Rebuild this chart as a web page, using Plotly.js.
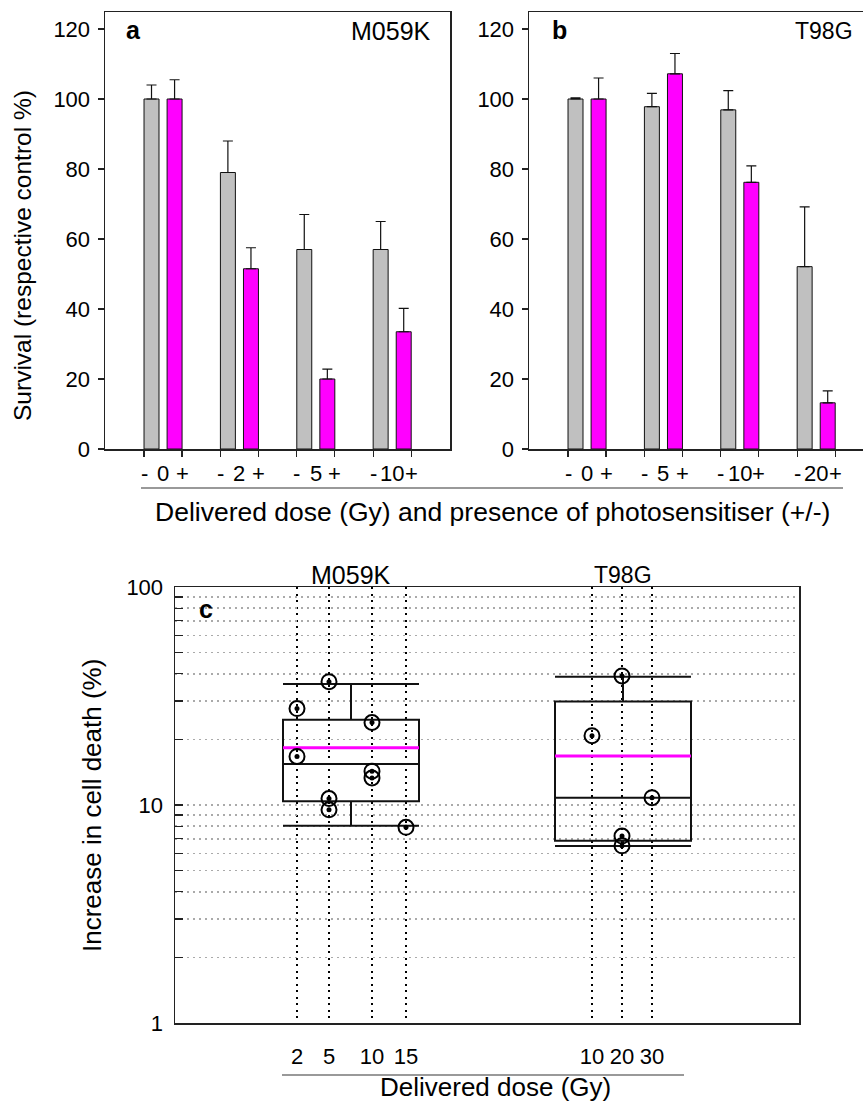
<!DOCTYPE html>
<html>
<head>
<meta charset="utf-8">
<script src="https://cdn.plot.ly/plotly-3.0.1.min.js"></script>
<style>html,body{margin:0;padding:0;background:#fff}#chart{width:863px;height:1104px}</style>
</head>
<body>
<div id="chart"></div>
<script>
// ---------- Data: panels a and b (survival, % of respective control) ----------
const dosesA = ['0', '2', '5', '10'];          // M059K delivered dose (Gy)
const grayA  = [100, 79, 57, 57];              // without photosensitiser (-)
const grayErrA = [4, 9, 10, 8];
const magA   = [100, 51.5, 20, 33.5];          // with photosensitiser (+)
const magErrA = [5.5, 6, 2.8, 6.7];

const dosesB = ['0', '5', '10', '20'];         // T98G delivered dose (Gy)
const grayB  = [100, 97.8, 96.9, 52.1];
const grayErrB = [0.3, 3.8, 5.5, 17.1];
const magB   = [100, 107.2, 76.2, 13.2];
const magErrB = [6, 5.8, 4.7, 3.4];

// ---------- Data: panel c (increase in cell death, %) ----------
const m059kDose = [2, 2, 5, 5, 5, 10, 10, 10, 15];
const m059kVal  = [27.7, 16.7, 36.8, 10.7, 9.5, 23.9, 14.3, 13.3, 7.9];
const t98gDose  = [10, 20, 20, 20, 30];
const t98gVal   = [20.8, 39.1, 7.2, 6.5, 10.8];

const boxCells   = ['M059K', 'T98G'];
const boxQ1      = [10.4, 6.86];
const boxMedian  = [15.4, 10.8];
const boxQ3      = [24.6, 29.8];
const boxLower   = [8.04, 6.49];
const boxUpper   = [35.9, 38.8];
const boxMean    = [18.3, 16.8];

// ---------- Layout-only positions for panel c (x axis slot positions) ----------
const slotPos = {M059K: {2: 122, 5: 154, 10: 197, 15: 231}, T98G: {10: 417, 20: 447, 30: 477}};
const boxPos = {M059K: 176, T98G: 448};
const boxWidth = 136;

// ---------- Styling ----------
const FONT = 'Liberation Sans, Arial, sans-serif';
const AX = '#222';
const GRAY = '#c0c0c0', MAG = '#ff00ff';
const barW = 0.196, grayOff = -0.249, magOff = 0.053;
const W = 863, H = 1104;
const px = v => v / W, py = v => 1 - v / H;

const idx = a => a.map((_, i) => i);
const zeros = a => a.map(() => 0);

function barTrace(vals, errs, color, off, xa, ya) {
  return {
    type: 'bar', x: idx(vals), y: vals, xaxis: xa, yaxis: ya,
    offset: off, width: barW,
    marker: {color: color, line: {color: '#111', width: 1}},
    error_y: {type: 'data', symmetric: false, array: errs, arrayminus: zeros(errs),
              color: '#111', thickness: 1.2, width: 5},
    hoverinfo: 'skip', showlegend: false
  };
}

const traces = [
  barTrace(grayA, grayErrA, GRAY, grayOff, 'x', 'y'),
  barTrace(magA, magErrA, MAG, magOff, 'x', 'y'),
  barTrace(grayB, grayErrB, GRAY, grayOff, 'x2', 'y2'),
  barTrace(magB, magErrB, MAG, magOff, 'x2', 'y2')
];

// Boxes (precomputed statistics)
boxCells.forEach((c, i) => {
  traces.push({
    type: 'box', x: [boxPos[c]], q1: [boxQ1[i]], median: [boxMedian[i]], q3: [boxQ3[i]],
    lowerfence: [boxLower[i]], upperfence: [boxUpper[i]],
    width: boxWidth, whiskerwidth: 1, boxpoints: false,
    line: {color: '#111', width: 2}, fillcolor: 'rgba(0,0,0,0)',
    xaxis: 'x3', yaxis: 'y3', hoverinfo: 'skip', showlegend: false
  });
});
// Mean lines
const mx = [], my = [];
boxCells.forEach((c, i) => {
  mx.push(boxPos[c] - boxWidth / 2, boxPos[c] + boxWidth / 2, null);
  my.push(boxMean[i], boxMean[i], null);
});
traces.push({type: 'scatter', mode: 'lines', x: mx, y: my, xaxis: 'x3', yaxis: 'y3',
  line: {color: MAG, width: 3}, hoverinfo: 'skip', showlegend: false});

// Points
const ptX = m059kDose.map(d => slotPos.M059K[d]).concat(t98gDose.map(d => slotPos.T98G[d]));
const ptY = m059kVal.concat(t98gVal);
traces.push({type: 'scatter', mode: 'markers', x: ptX, y: ptY, xaxis: 'x3', yaxis: 'y3',
  marker: {symbol: 'circle-open', size: 15, color: '#000', line: {width: 2, color: '#000'}},
  hoverinfo: 'skip', showlegend: false});
traces.push({type: 'scatter', mode: 'markers', x: ptX, y: ptY, xaxis: 'x3', yaxis: 'y3',
  marker: {symbol: 'circle', size: 5, color: '#000'}, hoverinfo: 'skip', showlegend: false});

// ---------- Axes ----------
const edgeTicks = a => a.flatMap((_, i) => [i + grayOff, i + magOff + barW]);
const baseX = {showline: true, linecolor: AX, linewidth: 1.5, showgrid: false, zeroline: false,
  ticks: 'outside', ticklen: 6, tickcolor: AX, tickwidth: 1.2, showticklabels: false, fixedrange: true};
const baseY = {showline: true, linecolor: AX, linewidth: 1.5, showgrid: false, zeroline: false,
  ticks: 'outside', ticklen: 6, tickcolor: AX, tickwidth: 1.2, range: [0, 124.86], dtick: 20,
  ticklabelstandoff: 3, tickfont: {size: 22, color: '#000'}, fixedrange: true};

const c3Ticks = [];
for (let d = 1; d <= 2; d++) for (let k = 1; k <= 9; k++) c3Ticks.push(k * Math.pow(10, d - 1));
c3Ticks.push(100);
const c3Text = c3Ticks.map(v => (v === 1 || v === 10 || v === 100) ? String(v) : '');

const slotVals = Object.values(slotPos.M059K).concat(Object.values(slotPos.T98G));
const slotText = Object.keys(slotPos.M059K).concat(Object.keys(slotPos.T98G));

const layout = {
  width: W, height: H, margin: {l: 0, r: 0, t: 0, b: 0},
  paper_bgcolor: '#fff', plot_bgcolor: 'rgba(0,0,0,0)',
  font: {family: FONT, color: '#000', size: 22},
  showlegend: false, barmode: 'overlay',
  xaxis: Object.assign({}, baseX, {domain: [px(105), px(450)], range: [-0.76, 3.757],
    tickvals: edgeTicks(dosesA), mirror: true, anchor: 'y'}),
  yaxis: Object.assign({}, baseY, {domain: [py(449), py(12)], mirror: true, anchor: 'x'}),
  xaxis2: Object.assign({}, baseX, {domain: [px(529), 1], range: [-0.76, 3.613],
    tickvals: edgeTicks(dosesB), mirror: true, anchor: 'y2'}),
  yaxis2: Object.assign({}, baseY, {domain: [py(449), py(12)], mirror: false, anchor: 'x2'}),
  xaxis3: {domain: [px(175), px(799)], range: [0, 624], anchor: 'y3',
    showline: true, mirror: true, linecolor: AX, linewidth: 1.5, zeroline: false,
    tickvals: slotVals, ticktext: slotText, ticks: '', ticklabelstandoff: 13,
    tickfont: {size: 22, color: '#000'},
    showgrid: true, gridcolor: '#000', gridwidth: 1.5, griddash: '2px,4.5px', fixedrange: true},
  yaxis3: {domain: [py(1023), py(587)], type: 'log', range: [0, 2], anchor: 'x3',
    showline: true, mirror: true, linecolor: AX, linewidth: 1.5, zeroline: false,
    tickvals: c3Ticks, ticktext: c3Text, ticks: 'inside', ticklen: 8, tickcolor: AX, tickwidth: 1.2,
    ticklabelstandoff: 6, tickfont: {size: 22, color: '#000'},
    showgrid: true, gridcolor: '#aaa', gridwidth: 1.5, griddash: '1.5px,4.5px', fixedrange: true},
  shapes: [
    {type: 'line', xref: 'paper', yref: 'paper', x0: px(141), x1: px(843), y0: py(488), y1: py(488),
     line: {color: '#777', width: 1.5}},
    {type: 'line', xref: 'paper', yref: 'paper', x0: px(282), x1: px(684), y0: py(1075), y1: py(1075),
     line: {color: '#777', width: 1.5}}
  ],
  annotations: []
};

const ann = layout.annotations;
function label(xref, x, y, text, opts) {
  ann.push(Object.assign({xref: xref, yref: 'paper', x: x, y: y, text: text, showarrow: false,
    xanchor: 'center', yanchor: 'middle', font: {size: 22, color: '#000'}}, opts || {}));
}
// Dose / +/- labels under panels a and b
[[dosesA, 'x'], [dosesB, 'x2']].forEach(([doses, xr]) => {
  doses.forEach((d, i) => {
    label(xr, i + grayOff, py(473), '-');
    label(xr, i, py(473), d);
    label(xr, i + magOff + barW, py(473), '+');
  });
});
// Panel texts
label('paper', px(22), py(256), 'Survival (respective control %)', {textangle: -90, font: {size: 24.5, color: '#000'}});
label('paper', px(492), py(512), 'Delivered dose (Gy) and presence of photosensitiser (+/-)', {font: {size: 26.5, color: '#000'}});
label('paper', px(124), py(30), '<b>a</b>', {xanchor: 'left', font: {size: 25, color: '#000'}});
label('paper', px(433), py(31), 'M059K', {xanchor: 'right', font: {size: 25, color: '#000'}});
label('paper', px(550), py(30), '<b>b</b>', {xanchor: 'left', font: {size: 25, color: '#000'}});
label('paper', px(855), py(31), 'T98G', {xanchor: 'right', font: {size: 23, color: '#000'}});
label('paper', px(197), py(609), '<b>c</b>', {xanchor: 'left', font: {size: 25, color: '#000'}});
label('x3', boxPos.M059K, py(575), 'M059K', {font: {size: 25, color: '#000'}});
label('x3', boxPos.T98G, py(575), 'T98G', {font: {size: 23, color: '#000'}});
label('paper', px(92), py(806), 'Increase in cell death (%)', {textangle: -90, font: {size: 26, color: '#000'}});
label('paper', px(495), 0, 'Delivered dose (Gy)', {yanchor: 'bottom', font: {size: 26, color: '#000'}});

Plotly.newPlot('chart', traces, layout, {staticPlot: true, displayModeBar: false});
</script>
</body>
</html>
